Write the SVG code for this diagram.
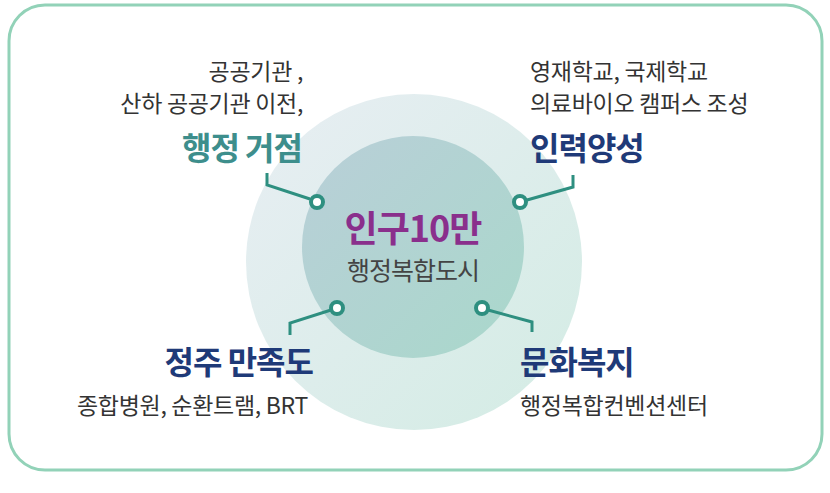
<svg xmlns="http://www.w3.org/2000/svg" width="830" height="493" viewBox="0 0 830 493">
<defs>
<linearGradient id="g1" x1="0" y1="0" x2="1" y2="1"><stop offset="0" stop-color="#e8eef3"/><stop offset="1" stop-color="#d3ece4"/></linearGradient>
<linearGradient id="g2" x1="0" y1="0" x2="1" y2="1"><stop offset="0" stop-color="#b9cfd8"/><stop offset="1" stop-color="#a9d8cb"/></linearGradient>
<style>
text{font-family:"Noto Sans CJK KR","Noto Sans",sans-serif}
.s{font-size:23px;fill:#333;letter-spacing:-0.3px}
.h{font-size:32px;font-weight:bold;letter-spacing:-1px}
.ln{fill:none;stroke:#2e8f80;stroke-width:3}
.dot{fill:#fff;stroke:#2e8f80;stroke-width:4}
</style>
</defs>
<rect x="0" y="0" width="830" height="493" fill="#fff"/>
<rect x="9" y="5" width="813" height="465" rx="36" fill="#fff" stroke="#92d2b8" stroke-width="3"/>
<g id="circles">
<circle cx="414" cy="262" r="168" fill="url(#g1)"/>
<circle cx="413" cy="247" r="111" fill="url(#g2)"/>
</g>
<g id="center">
<text x="413" y="242" text-anchor="middle" font-size="36" font-weight="bold" fill="#8a2f8c" letter-spacing="-1">인구10만</text>
<text x="413" y="280" text-anchor="middle" font-size="25" fill="#444" letter-spacing="-1">행정복합도시</text>
</g>
<g id="connectors">
<polyline class="ln" points="267,173 267,185 310,199"/>
<polyline class="ln" points="573,175 573,187 527,200"/>
<polyline class="ln" points="290,335 290,323 331,310"/>
<polyline class="ln" points="532,332 532,322 488,310"/>
<circle class="dot" cx="317" cy="202" r="6"/>
<circle class="dot" cx="520" cy="202" r="6"/>
<circle class="dot" cx="337" cy="308" r="6"/>
<circle class="dot" cx="482" cy="308" r="6"/>
</g>
<g id="n1">
<text class="s" x="303" y="80" text-anchor="end">공공기관 ,</text>
<text class="s" x="303" y="112" text-anchor="end">산하 공공기관 이전,</text>
<text class="h" x="302" y="160" text-anchor="end" fill="#3d8e8c">행정 거점</text>
</g>
<g id="n2">
<text class="s" x="530" y="80">영재학교, 국제학교</text>
<text class="s" x="530" y="112">의료바이오  캠퍼스 조성</text>
<text class="h" x="530" y="160" fill="#1f3a78">인력양성</text>
</g>
<g id="n3">
<text class="h" x="313" y="374" text-anchor="end" fill="#1f3a78">정주 만족도</text>
<text class="s" x="308" y="414" text-anchor="end">종합병원, 순환트램, BRT</text>
</g>
<g id="n4">
<text class="h" x="520" y="374" fill="#1f3a78">문화복지</text>
<text class="s" x="520" y="414">행정복합컨벤션센터</text>
</g>
</svg>
